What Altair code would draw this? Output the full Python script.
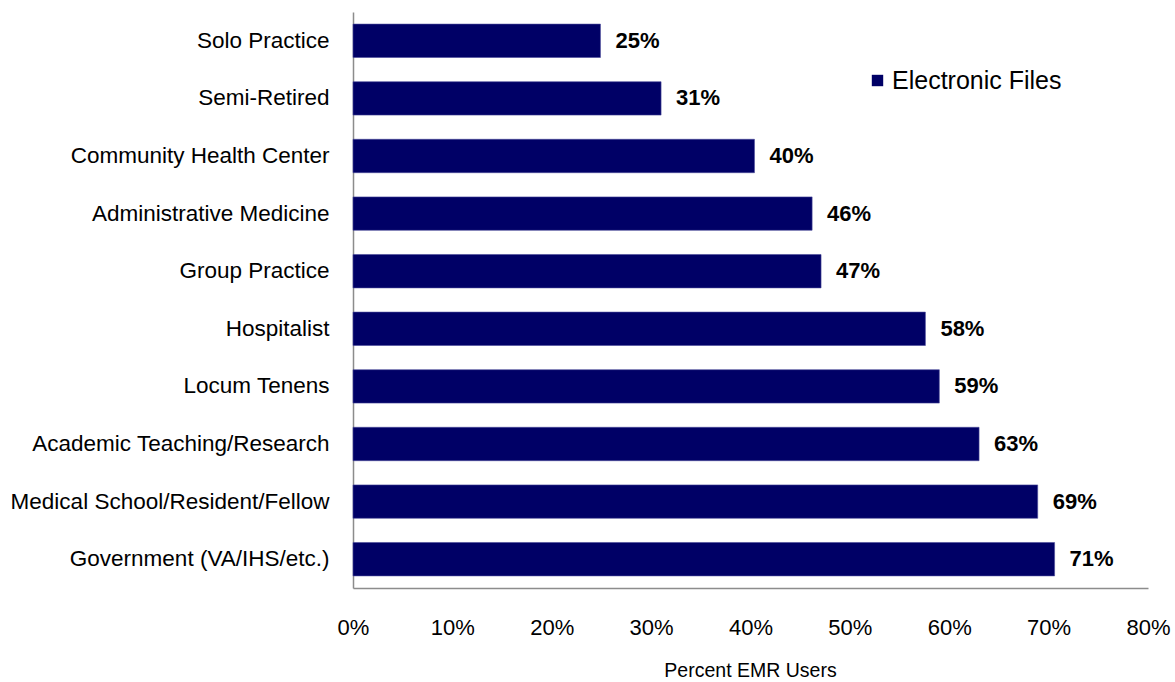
import altair as alt
import pandas as pd

categories = ["Solo Practice", "Semi-Retired", "Community Health Center",
              "Administrative Medicine", "Group Practice", "Hospitalist",
              "Locum Tenens", "Academic Teaching/Research",
              "Medical School/Resident/Fellow", "Government (VA/IHS/etc.)"]
values = [0.249, 0.310, 0.404, 0.462, 0.471, 0.576, 0.590, 0.630, 0.689, 0.706]
labels = ["25%", "31%", "40%", "46%", "47%", "58%", "59%", "63%", "69%", "71%"]
series = ["Electronic Files"] * len(categories)

df = pd.DataFrame({"category": categories, "value": values,
                   "label": labels, "series": series})

FONT = "Liberation Sans"

base = alt.Chart(df).encode(
    y=alt.Y("category:N", sort=categories,
            scale=alt.Scale(paddingInner=0.42, paddingOuter=0.21),
            axis=alt.Axis(title=None, ticks=False, grid=False,
                          labelFontSize=22.5, labelFont=FONT, labelColor="#000000",
                          labelPadding=24, domainColor="#8c8c8c", domainWidth=1.5,
                          labelLimit=400)),
)

bars = base.mark_bar(color="#000066", stroke="#4a4a9a", strokeWidth=0.6).encode(
    x=alt.X("value:Q", scale=alt.Scale(domain=[0, 0.8], nice=False),
            axis=alt.Axis(format=".0%", values=[0, .1, .2, .3, .4, .5, .6, .7, .8],
                          title="Percent EMR Users", titleFontSize=19.5,
                          titleFont=FONT, titleFontWeight="normal",
                          titleColor="#000000", titlePadding=23, titleX=397,
                          ticks=False, grid=False, labelFontSize=22,
                          labelFont=FONT, labelColor="#000000", labelPadding=29,
                          domainColor="#8c8c8c", domainWidth=1.5,
                          labelFlush=False)),
    color=alt.Color("series:N", scale=alt.Scale(range=["#000066"]),
                    legend=alt.Legend(title=None, orient="none", legendX=512,
                                      legendY=56, symbolType="square",
                                      symbolSize=130, symbolStrokeWidth=0,
                                      labelFontSize=25, labelFont=FONT,
                                      labelColor="#000000", labelOffset=2,
                                      labelLimit=400)),
)

text = base.mark_text(align="left", baseline="middle", dx=15, fontSize=22,
                      fontWeight="bold", font=FONT, color="#000000").encode(
    x=alt.X("value:Q"),
    text="label:N",
)

chart = (bars + text).properties(
    width=795, height=576,
    autosize=alt.AutoSizeParams(type="none"),
    padding={"left": 353, "top": 12, "right": 27, "bottom": 94},
).configure(background="#ffffff").configure_view(strokeWidth=0, stroke="transparent")

chart.save("out.html", embed_options={"renderer": "svg", "actions": False})
